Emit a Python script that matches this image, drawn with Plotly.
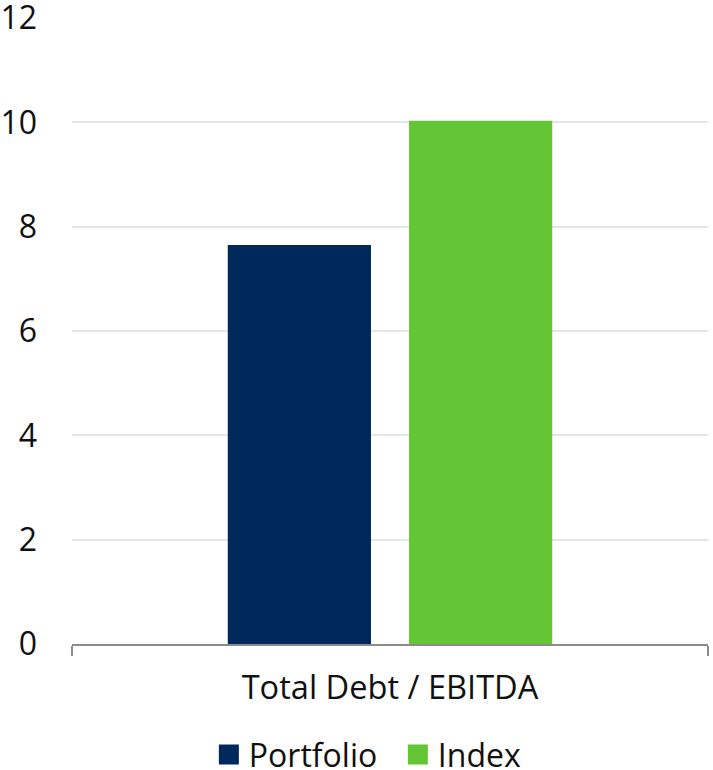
import plotly.graph_objects as go

# Leverage comparison: portfolio vs benchmark index
categories = ["Total Debt / EBITDA"]
portfolio = [7.65]
index_vals = [10.03]
series_names = ["Portfolio", "Index"]
y_ticks = [0, 2, 4, 6, 8, 10, 12]

NAVY = "#00295B"
GREEN = "#65C635"
FONT = "Open Sans, Noto Sans, sans-serif"
FS = 32

fig = go.Figure()
for name, vals, color in [(series_names[0], portfolio, NAVY),
                          (series_names[1], index_vals, GREEN)]:
    fig.add_trace(go.Bar(x=categories, y=vals, name=name, showlegend=False,
                         marker=dict(color=color, line=dict(width=0))))
    # square legend swatch for each series
    fig.add_trace(go.Scatter(x=[None], y=[None], name=name, mode="markers",
                             marker=dict(symbol="square", size=16, color=color,
                                         line=dict(color=color, width=4))))

fig.update_layout(
    width=713, height=770,
    margin=dict(l=72, r=5, t=18, b=126, autoexpand=False),
    paper_bgcolor="white", plot_bgcolor="white",
    barmode="group", bargap=0.43, bargroupgap=0.21,
    font=dict(family=FONT, size=FS, color="#111111"),
    showlegend=True,
    legend=dict(orientation="h", xref="container", yref="container",
                x=0.558, y=0.02, xanchor="center", yanchor="middle",
                font=dict(size=FS), itemwidth=30, tracegroupgap=0,
                entrywidth=144, itemsizing="trace"),
    hovermode=False,
)

fig.update_yaxes(range=[0, 12.0001], tickvals=y_ticks, showgrid=True,
                 gridcolor="#E6E6E6", gridwidth=1.5, zeroline=False,
                 showline=False, ticks="", ticklabelstandoff=34,
                 ticklabeloverflow="allow", automargin=False,
                 tickfont=dict(size=FS))
fig.update_xaxes(showline=True, linecolor="#8C8C8C", linewidth=2,
                 ticks="outside", tickson="boundaries", ticklen=10,
                 tickwidth=2, tickcolor="#8C8C8C", ticklabelstandoff=14,
                 automargin=False, tickfont=dict(size=32.6), showgrid=False)

fig.write_html("out.html")
